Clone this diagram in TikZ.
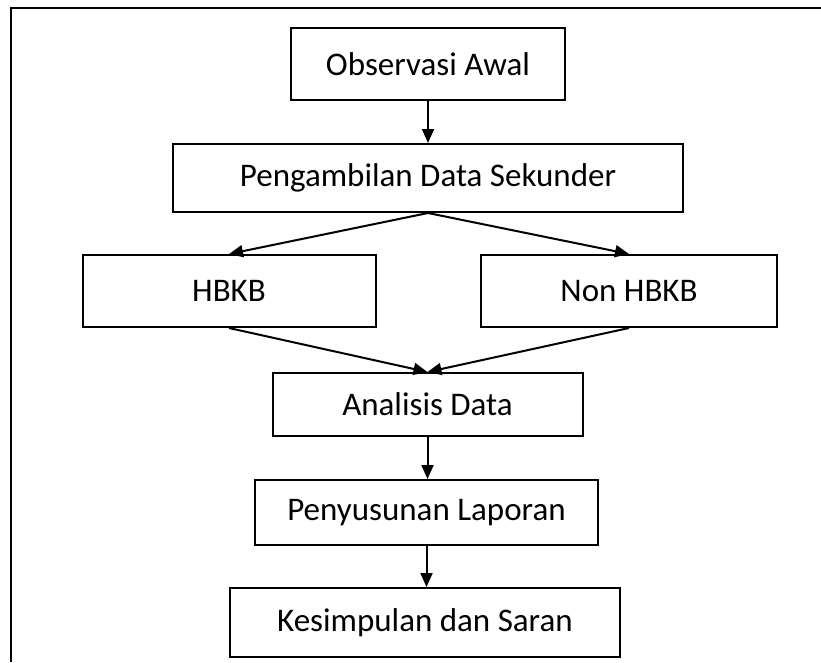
\documentclass[tikz,border=0pt]{standalone}
\usepackage{fontspec}
\setmainfont{Carlito}
\usetikzlibrary{arrows.meta}
\begin{document}
\begin{tikzpicture}[x=1pt,y=-1pt,
  flowbox/.style={draw=black, line width=2pt, rectangle, inner sep=0pt, font=\fontsize{33}{38}\selectfont, text=black},
  conn/.style={line width=2pt, -{Triangle[length=14pt,width=12pt]}}]
\useasboundingbox (0,0) rectangle (821,662);
\coordinate (frameTL) at (11,8);
\coordinate (frameTR) at (821,8);
\coordinate (frameBL) at (11,662);
\draw[line width=2pt] (frameBL) -- (frameTL) -- (frameTR);

\node[flowbox, minimum width=274pt, minimum height=72pt] (obs) at (428,64) {Observasi Awal};
\node[flowbox, minimum width=510pt, minimum height=68pt] (peng) at (428,178) {Pengambilan Data Sekunder};
\node[flowbox, minimum width=293pt, minimum height=72pt] (hbkb) at (229,291) {HBKB};
\node[flowbox, minimum width=296pt, minimum height=72pt] (non) at (629,291) {Non HBKB};
\node[flowbox, minimum width=310pt, minimum height=63pt] (ana) at (427.5,404.5) {Analisis Data};
\node[flowbox, minimum width=343pt, minimum height=65pt] (pen) at (426.5,512.5) {Penyusunan Laporan};
\node[flowbox, minimum width=390pt, minimum height=69pt] (kes) at (425,622.5) {Kesimpulan dan Saran};

\draw[conn] (obs.south) -- (peng.north);
\draw[conn] (peng.south) -- (hbkb.north);
\draw[conn] (peng.south) -- (non.north);
\draw[conn] (hbkb.south) -- (ana.north);
\draw[conn] (non.south) -- (ana.north);
\draw[conn] (ana.south) -- (ana.south |- pen.north);
\draw[conn] (pen.south) -- (pen.south |- kes.north);
\end{tikzpicture}
\end{document}
